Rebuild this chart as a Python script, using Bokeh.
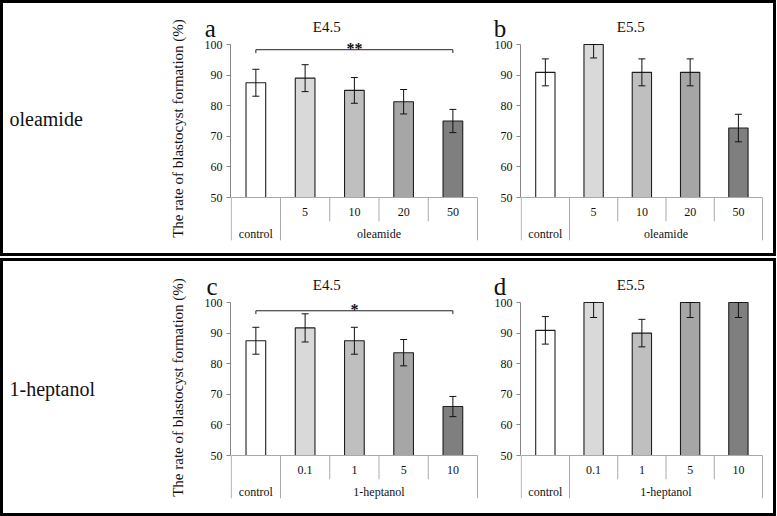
from bokeh.plotting import figure
from bokeh.layouts import row, column
from bokeh.models import Range1d, FixedTicker, ColumnDataSource, Whisker, TeeHead, Label
from bokeh.core.properties import value
from bokeh.embed import file_html
from bokeh.resources import INLINE

FONT = "Liberation Serif"

# ---------------- data ----------------
y_ticks = [50, 60, 70, 80, 90, 100]
y_axis_title = "The rate of blastocyst formation (%)"

oleamide_subs = ["", "5", "10", "20", "50"]
oleamide_groups = ["control", "oleamide"]
heptanol_subs = ["", "0.1", "1", "5", "10"]
heptanol_groups = ["control", "1-heptanol"]
group_sizes = [1, 4]

a_vals = [87.5, 89.0, 85.0, 81.3, 75.0]
a_errs = [4.4, 4.4, 4.2, 4.0, 3.8]
b_vals = [90.9, 100.0, 90.9, 90.9, 72.7]
b_errs = [4.4, 4.4, 4.4, 4.4, 4.5]
c_vals = [87.5, 91.7, 87.5, 83.6, 66.0]
c_errs = [4.4, 4.6, 4.4, 4.3, 3.3]
d_vals = [90.9, 100.0, 90.0, 100.0, 100.0]
d_errs = [4.5, 4.9, 4.5, 4.9, 4.9]

# significance brackets: (first index, last index, bracket level, marker)
a_sig = (0, 4, 98.3, "**")
c_sig = (0, 4, 97.3, "*")

bar_colors = ["#ffffff", "#d9d9d9", "#bfbfbf", "#a6a6a6", "#7f7f7f"]

# ---------------- styling ----------------
PX_PER_UNIT = 3.06
Y_HI = 113.4
AXIS_COL = "#868686"
TABLE_COL = "#a9a9a9"
INK = "#111111"
SUB_BOTTOM = 42.2
TABLE_BOTTOM = 36.0
SUB_LABEL_Y = 45.1
GROUP_LABEL_Y = 38.2


def panel(vals, errs, subs, groups, title, letter, title_x, letter_x,
          with_label, width, height, left, right, sig=None):
    n = len(vals)
    y_lo = Y_HI - height / PX_PER_UNIT
    p = figure(width=width, height=height,
               x_range=Range1d(-0.015, n + 0.02), y_range=Range1d(y_lo, Y_HI),
               x_axis_location=None, toolbar_location=None, output_backend="svg",
               min_border_left=left, min_border_right=right,
               min_border_top=0, min_border_bottom=0)
    p.outline_line_color = None
    p.grid.grid_line_color = None

    xs = [i + 0.5 for i in range(n)]
    upper = [min(v + e, 100) for v, e in zip(vals, errs)]
    lower = [v - e for v, e in zip(vals, errs)]
    src = ColumnDataSource(dict(x=xs, top=vals, upper=upper, lower=lower,
                                color=bar_colors[:n]))
    p.vbar(x="x", top="top", bottom=50, width=0.4, fill_color="color",
           line_color="#1e1e1e", line_width=1.1, source=src)
    p.add_layout(Whisker(source=src, base="x", upper="upper", lower="lower",
                         line_color=INK, line_width=1, level="overlay",
                         upper_head=TeeHead(size=7, line_color=INK, line_width=1),
                         lower_head=TeeHead(size=7, line_color=INK, line_width=1)))

    # category table below the bars
    p.segment(x0=[0], y0=[50], x1=[n], y1=[50], line_color=TABLE_COL, line_width=1)
    bounds = [0]
    acc = 0
    for g in group_sizes:
        acc += g
        bounds.append(acc)
    p.segment(x0=bounds, y0=[50] * len(bounds), x1=bounds,
              y1=[TABLE_BOTTOM] * len(bounds), line_color=TABLE_COL, line_width=1)
    subs_b = [i for i in range(1, n) if i not in bounds]
    p.segment(x0=subs_b, y0=[50] * len(subs_b), x1=subs_b,
              y1=[SUB_BOTTOM] * len(subs_b), line_color=TABLE_COL, line_width=1)
    p.text(x=xs, y=[SUB_LABEL_Y] * n, text=subs, text_align="center",
           text_baseline="middle", text_font=value(FONT), text_font_size="12px",
           text_color=INK)
    gx = [(bounds[i] + bounds[i + 1]) / 2 for i in range(len(groups))]
    p.text(x=gx, y=[GROUP_LABEL_Y] * len(groups), text=groups, text_align="center",
           text_baseline="middle", text_font=value(FONT), text_font_size="12px",
           text_color=INK)

    # title and panel letter
    p.text(x=[title_x], y=[105.6], text=[title], text_align="center",
           text_baseline="alphabetic", text_font=value(FONT), text_font_size="15px",
           text_color=INK)
    p.add_layout(Label(x=letter_x, y=105.1, text=letter, text_font=FONT,
                       text_font_size="25px", text_align="left",
                       text_baseline="alphabetic", text_color=INK), "left")

    if sig is not None:
        i0, i1, lvl, mark = sig
        x0, x1 = i0 + 0.5, i1 + 0.5
        p.line(x=[x0, x0, x1, x1], y=[lvl - 1.1, lvl, lvl, lvl - 1.1],
               line_color="#222222", line_width=1)
        p.text(x=[(x0 + x1) / 2], y=[lvl + 0.3], text=[mark], text_align="center",
               text_baseline="alphabetic", text_font=value(FONT),
               text_font_size="16px", text_font_style="bold", text_color=INK)

    ax = p.yaxis[0]
    ax.bounds = (50, 100)
    ax.ticker = FixedTicker(ticks=y_ticks)
    ax.minor_tick_line_color = None
    ax.major_tick_in = 0
    ax.major_tick_out = 4
    ax.axis_line_color = AXIS_COL
    ax.major_tick_line_color = AXIS_COL
    ax.major_label_text_font = FONT
    ax.major_label_text_font_size = "12px"
    ax.major_label_text_color = INK
    ax.major_label_standoff = 4
    if with_label:
        ax.axis_label = y_axis_title
        ax.axis_label_text_font = FONT
        ax.axis_label_text_font_size = "15px"
        ax.axis_label_text_font_style = "normal"
        ax.axis_label_text_color = INK
        ax.axis_label_standoff = 16
    return p


def side_label(text, ypos, height):
    p = figure(width=152, height=height, x_range=Range1d(0, 152),
               y_range=Range1d(height, 0),
               x_axis_location=None, y_axis_location=None, toolbar_location=None,
               output_backend="svg", min_border=0)
    p.outline_line_color = None
    p.grid.visible = False
    p.text(x=[6], y=[ypos], text=[text], text_baseline="middle",
           text_font=value(FONT), text_font_size="20px", text_color=INK)
    return p


H1, H2 = 250, 252

pa = panel(a_vals, a_errs, oleamide_subs, oleamide_groups, "E4.5", "a", 1.94, -0.54,
           True, 323, H1, 75, 0, a_sig)
pb = panel(b_vals, b_errs, oleamide_subs, oleamide_groups, "E5.5", "b", 2.27, -0.57,
           False, 295, H1, 41, 10)
pc = panel(c_vals, c_errs, heptanol_subs, heptanol_groups, "E4.5", "c", 1.94, -0.50,
           True, 323, H2, 75, 0, c_sig)
pd = panel(d_vals, d_errs, heptanol_subs, heptanol_groups, "E5.5", "d", 2.27, -0.57,
           False, 295, H2, 41, 10)

l1 = side_label("oleamide", 115, H1)
l2 = side_label("1-heptanol", 127, H2)

box = {"border": "3px solid black"}
top = row(l1, pa, pb, styles=box)
bot = row(l2, pc, pd, styles=box)
layout = column(top, bot, spacing=2)

open("out.html", "w").write(file_html(layout, INLINE))
